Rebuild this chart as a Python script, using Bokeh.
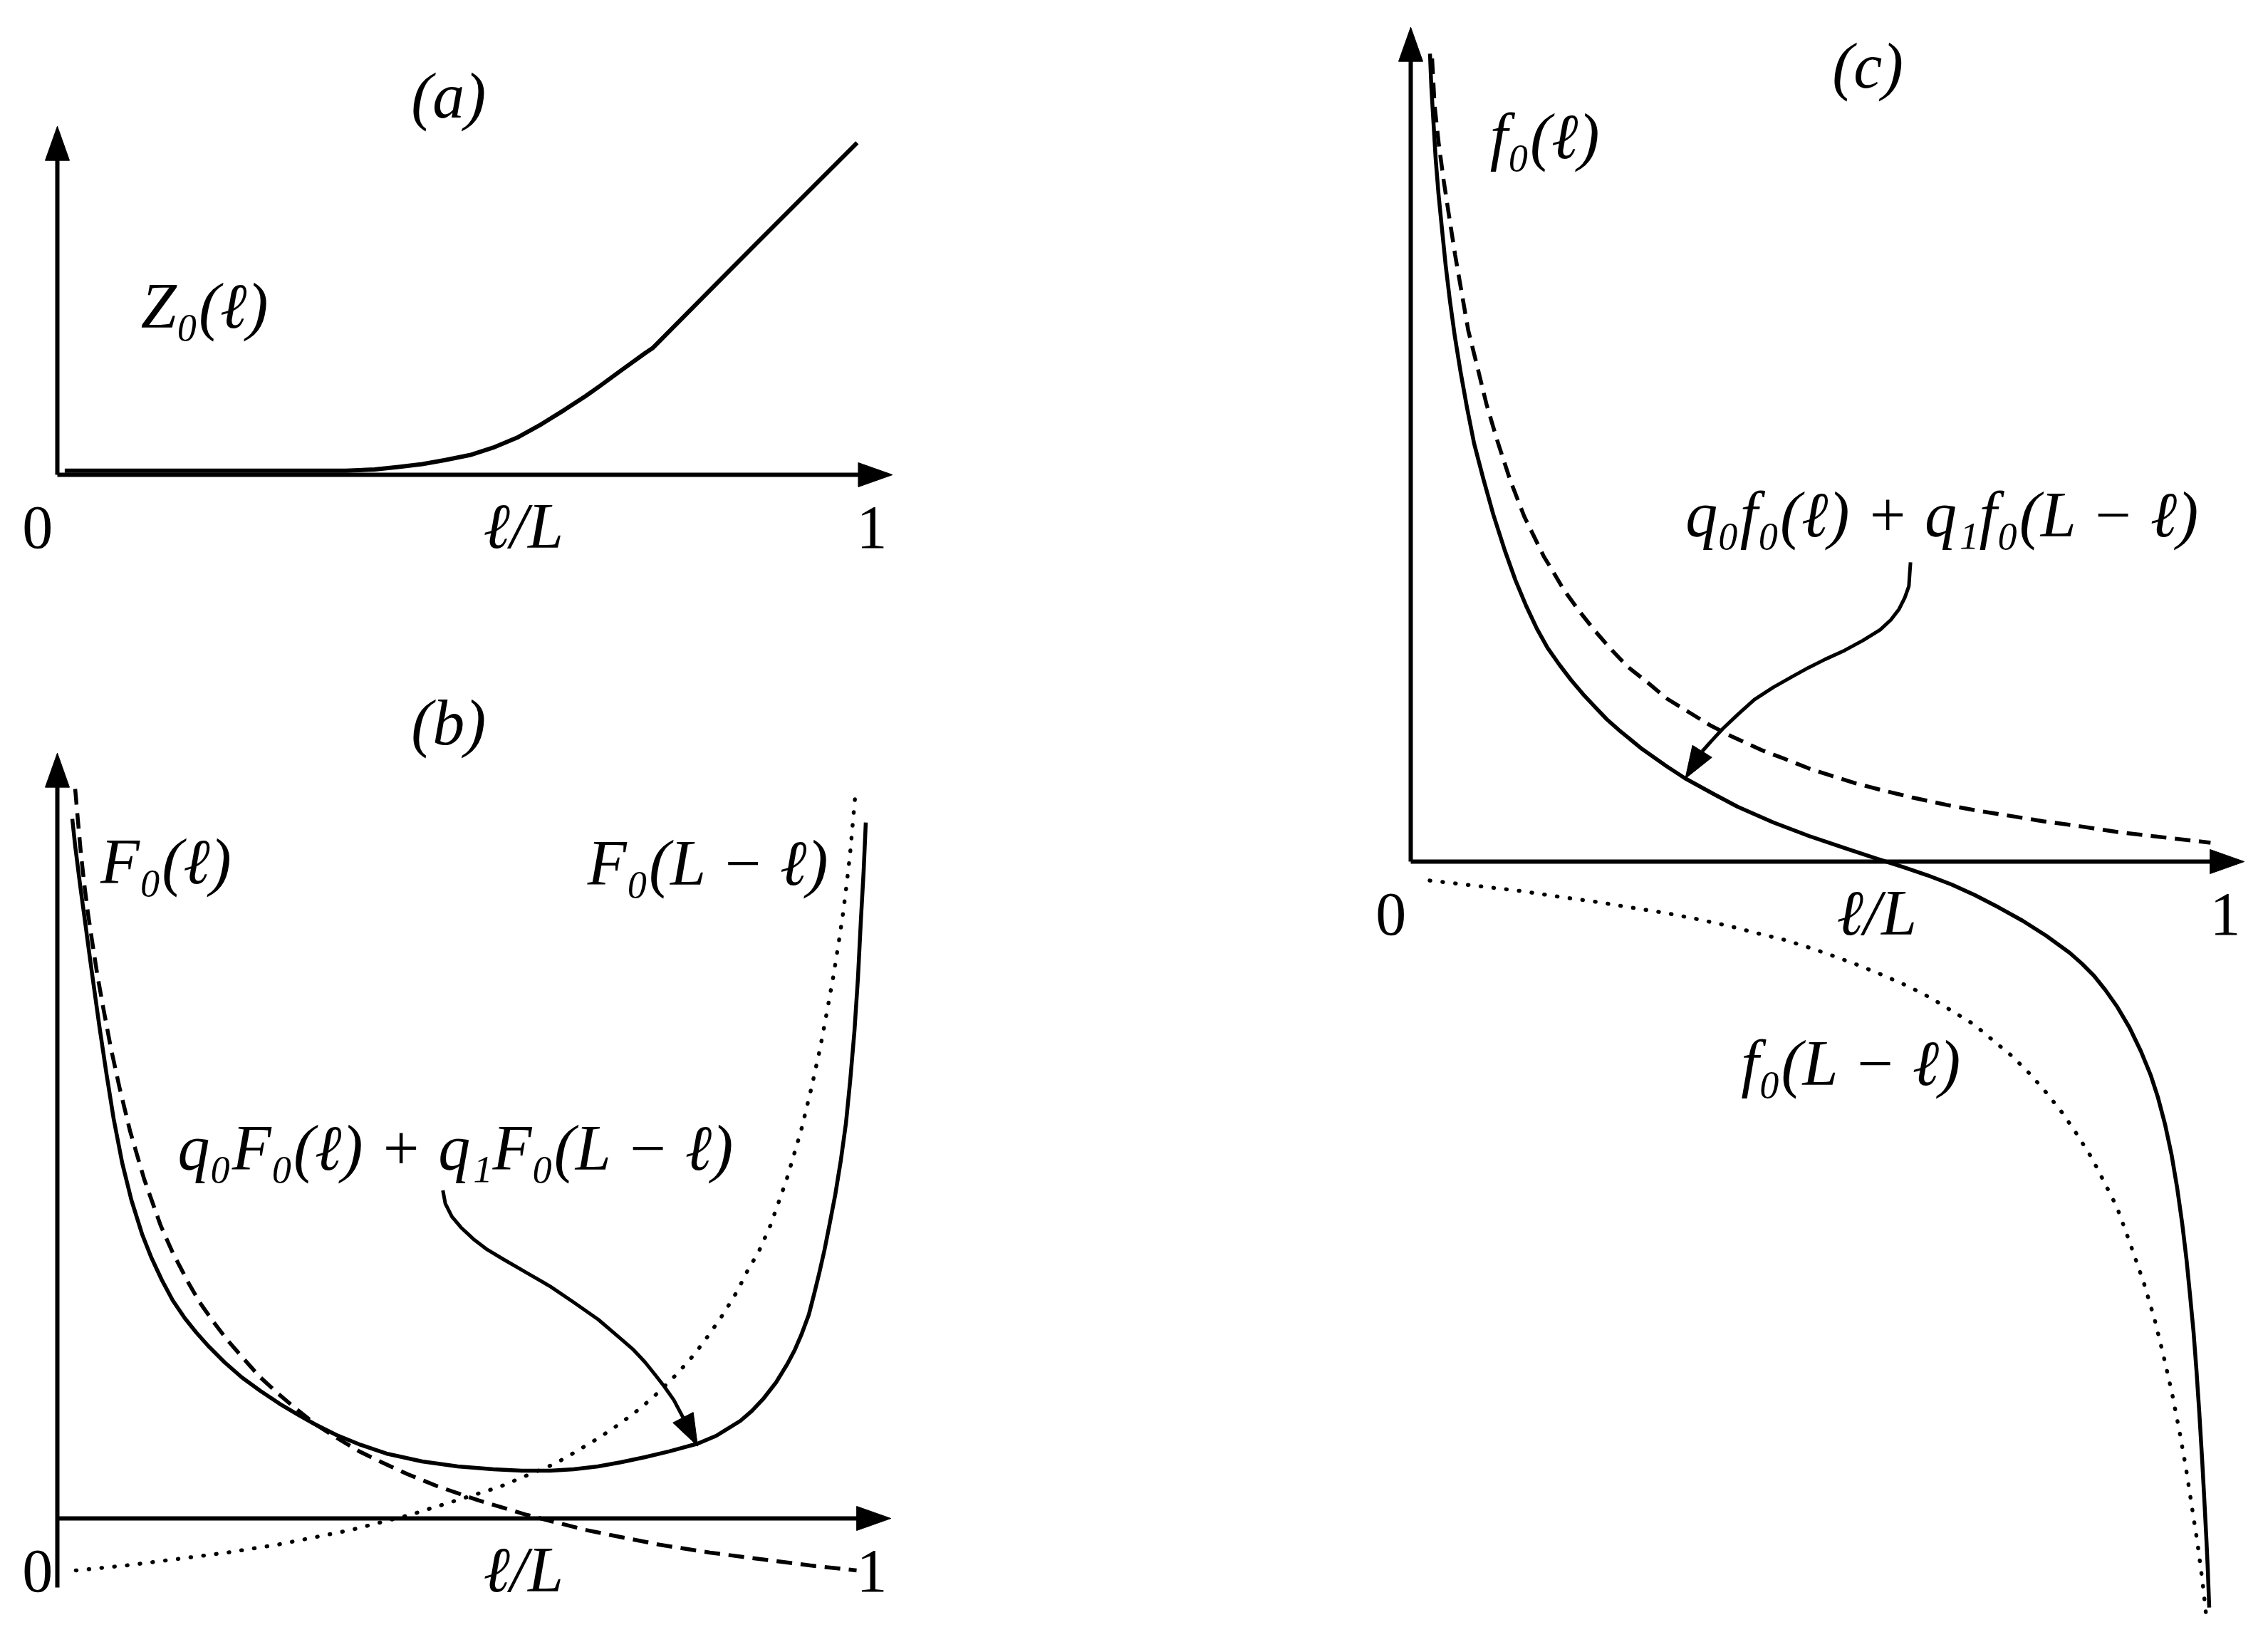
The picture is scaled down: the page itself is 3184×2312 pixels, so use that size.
import numpy as np
from bokeh.plotting import figure
from bokeh.models import Range1d
from bokeh.core.properties import value
from bokeh.embed import file_html
from bokeh.resources import INLINE

# ---------------- data (x = l/L) ----------------
# panel (a): Z0(l)
A_X = [0.009, 0.351, 0.386, 0.415, 0.444, 0.472, 0.502, 0.530, 0.559, 0.588, 0.617, 0.643,
       0.660, 0.686, 0.715, 0.724, 0.848, 0.973]
A_Z0 = [0.005, 0.005, 0.0065, 0.0095, 0.013, 0.018, 0.024, 0.033, 0.045, 0.061, 0.079, 0.096,
        0.108, 0.127, 0.148, 0.154, 0.279, 0.404]

# panel (b): q0 F0(l) + q1 F0(L-l)  (solid), F0(l) (dashed), F0(L-l) (dotted)
B_X_SUM = [0.0182, 0.0217, 0.0277, 0.0338, 0.0390, 0.0451, 0.0511, 0.0598, 0.0685, 0.0789,
           0.0901, 0.1031, 0.1144, 0.1274, 0.1404, 0.1551, 0.1690, 0.1837, 0.2036, 0.2244,
           0.2470, 0.2704, 0.2938, 0.3137, 0.3397, 0.3674, 0.4003, 0.4437, 0.4870, 0.5303,
           0.5650, 0.5997, 0.6282, 0.6577, 0.6863, 0.7149, 0.7444, 0.7790, 0.8016, 0.8310,
           0.8449, 0.8596, 0.8744, 0.8882, 0.8969, 0.9055, 0.9142, 0.9211, 0.9272, 0.9333,
           0.9393, 0.9463, 0.9532, 0.9593, 0.9645, 0.9697, 0.9740, 0.9775, 0.9809, 0.9835]
B_SUM = [0.8510, 0.8180, 0.7704, 0.7253, 0.6863, 0.6421, 0.5988, 0.5407, 0.4861, 0.4324,
         0.3873, 0.3458, 0.3172, 0.2894, 0.2652, 0.2435, 0.2262, 0.2097, 0.1898, 0.1716,
         0.1551, 0.1395, 0.1256, 0.1144, 0.1014, 0.0901, 0.0789, 0.0693, 0.0633, 0.0598,
         0.0581, 0.0581, 0.0598, 0.0633, 0.0685, 0.0745, 0.0815, 0.0910, 0.1005, 0.1187,
         0.1308, 0.1464, 0.1655, 0.1880, 0.2045, 0.2244, 0.2478, 0.2747, 0.2998, 0.3267,
         0.3570, 0.3934, 0.4359, 0.4801, 0.5321, 0.5927, 0.6577, 0.7270, 0.7877, 0.8466]
B_X_F = [0.0217, 0.0251, 0.0286, 0.0329, 0.0373, 0.0425, 0.0485, 0.0563, 0.0650, 0.0754,
         0.0884, 0.1057, 0.1257, 0.1404, 0.1594, 0.1733, 0.1898, 0.2071, 0.2253, 0.2461,
         0.2678, 0.2903, 0.3154, 0.3414, 0.3674, 0.3943, 0.4263, 0.4627, 0.5130, 0.5711,
         0.6421, 0.6716, 0.7331, 0.7938, 0.8544, 0.9159, 0.9723]
B_F = [0.8873, 0.8484, 0.8094, 0.7704, 0.7357, 0.7010, 0.6620, 0.6187, 0.5728, 0.5251,
       0.4714, 0.4125, 0.3562, 0.3232, 0.2868, 0.2626, 0.2392, 0.2166, 0.1958, 0.1724,
       0.1525, 0.1334, 0.1135, 0.0971, 0.0815, 0.0685, 0.0537, 0.0390, 0.0217, 0.0043,
       -0.0139, -0.0199, -0.0321, -0.0416, -0.0494, -0.0572, -0.0633]
B_X_FR = [0.0225, 0.0841, 0.1456, 0.2062, 0.2669, 0.3284, 0.3579, 0.4289, 0.5373, 0.6057,
          0.6326, 0.6586, 0.6846, 0.7097, 0.7322, 0.7539, 0.7747, 0.7929, 0.8102, 0.8267,
          0.8406, 0.8527, 0.8674, 0.8873, 0.9047, 0.9177, 0.9281, 0.9367, 0.9445, 0.9506,
          0.9558, 0.9601, 0.9645, 0.9679, 0.9714]
B_FR = [-0.0633, -0.0572, -0.0494, -0.0416, -0.0321, -0.0199, -0.0139, 0.0043, 0.0381, 0.0667,
        0.0823, 0.0979, 0.1153, 0.1343, 0.1542, 0.1759, 0.1993, 0.2236, 0.2487, 0.2756,
        0.3033, 0.3232, 0.3562, 0.4125, 0.4714, 0.5251, 0.5728, 0.6187, 0.6620, 0.7010,
        0.7357, 0.7704, 0.8094, 0.8484, 0.8873]

# panel (c): q0 f0(l) + q1 f0(L-l) (solid), f0(l) (dashed), f0(L-l) (dotted)
C_X_SUM = [0.0234, 0.0251, 0.0277, 0.0303, 0.0338, 0.0381, 0.0425, 0.0477, 0.0537, 0.0607,
           0.0685, 0.0771, 0.0884, 0.1005, 0.1144, 0.1274, 0.1404, 0.1534, 0.1664, 0.1811,
           0.1950, 0.2097, 0.2244, 0.2383, 0.2530, 0.2816, 0.3111, 0.3336, 0.3683, 0.3977,
           0.4411, 0.4844, 0.5277, 0.5650, 0.5997, 0.6282, 0.6577, 0.6863, 0.7149, 0.7444,
           0.7730, 0.8016, 0.8163, 0.8310, 0.8449, 0.8596, 0.8744, 0.8882, 0.9003, 0.9090,
           0.9177, 0.9255, 0.9324, 0.9385, 0.9437, 0.9480, 0.9523, 0.9558, 0.9593, 0.9627,
           0.9653, 0.9679, 0.9697, 0.9714]
C_SUM = [0.9827, 0.9419, 0.8986, 0.8553, 0.8120, 0.7686, 0.7253, 0.6820, 0.6386, 0.5953,
         0.5520, 0.5087, 0.4653, 0.4220, 0.3787, 0.3423, 0.3111, 0.2834, 0.2600, 0.2392,
         0.2210, 0.2036, 0.1880, 0.1733, 0.1603, 0.1369, 0.1161, 0.1014, 0.0823, 0.0667,
         0.0477, 0.0312, 0.0165, 0.0043, -0.0069, -0.0165, -0.0277, -0.0407, -0.0555, -0.0719,
         -0.0901, -0.1109, -0.1239, -0.1386, -0.1560, -0.1768, -0.2019, -0.2305, -0.2600, -0.2868,
         -0.3198, -0.3562, -0.3969, -0.4402, -0.4835, -0.5269, -0.5719, -0.6179, -0.6698, -0.7262,
         -0.7738, -0.8232, -0.8622, -0.9073]
C_X_F = [0.026, 0.029, 0.034, 0.040, 0.047, 0.054, 0.062, 0.070, 0.081, 0.092, 0.105, 0.121,
         0.138, 0.162, 0.170, 0.186, 0.204, 0.223, 0.243, 0.264, 0.288, 0.312, 0.338, 0.364,
         0.391, 0.426, 0.455, 0.484, 0.513, 0.542, 0.571, 0.610, 0.652, 0.689, 0.727, 0.770,
         0.814, 0.860, 0.903, 0.973]
C_F = [0.977, 0.920, 0.874, 0.829, 0.783, 0.738, 0.692, 0.646, 0.602, 0.557, 0.513, 0.464,
       0.420, 0.371, 0.358, 0.331, 0.306, 0.282, 0.259, 0.237, 0.218, 0.198, 0.182, 0.166,
       0.152, 0.136, 0.125, 0.1135, 0.104, 0.095, 0.0875, 0.078, 0.069, 0.062, 0.056, 0.049,
       0.043, 0.036, 0.031, 0.023]
C_X_FR = [0.023, 0.093, 0.136, 0.182, 0.226, 0.269, 0.307, 0.344, 0.386, 0.425, 0.454, 0.483,
          0.512, 0.542, 0.574, 0.606, 0.633, 0.659, 0.685, 0.709, 0.732, 0.754, 0.774, 0.793,
          0.810, 0.827, 0.834, 0.859, 0.875, 0.892, 0.905, 0.916, 0.926, 0.935, 0.943, 0.950,
          0.957, 0.963, 0.968]
C_FR = [-0.023, -0.031, -0.036, -0.043, -0.049, -0.056, -0.062, -0.069, -0.078, -0.088, -0.095,
        -0.104, -0.114, -0.125, -0.138, -0.152, -0.166, -0.182, -0.198, -0.218, -0.237, -0.259,
        -0.282, -0.306, -0.331, -0.358, -0.371, -0.420, -0.464, -0.513, -0.557, -0.602, -0.646,
        -0.692, -0.737, -0.783, -0.828, -0.874, -0.920]

# pointer arrows from the labels to the solid curves (last point = arrow tip)
B_PTR_X = [0.469, 0.472, 0.480, 0.491, 0.506, 0.523, 0.543, 0.569, 0.600, 0.628, 0.658, 0.686,
           0.701, 0.715, 0.727, 0.738, 0.750, 0.758, 0.779]
B_PTR_Y = [0.399, 0.383, 0.367, 0.354, 0.340, 0.327, 0.315, 0.300, 0.282, 0.263, 0.242, 0.218,
           0.205, 0.190, 0.175, 0.161, 0.144, 0.129, 0.088]
C_PTR_X = [0.608, 0.607, 0.606, 0.601, 0.594, 0.584, 0.571, 0.550, 0.528, 0.504, 0.484, 0.464,
           0.441, 0.418, 0.398, 0.380, 0.366, 0.357, 0.334]
C_PTR_Y = [0.364, 0.350, 0.335, 0.321, 0.307, 0.294, 0.282, 0.269, 0.257, 0.246, 0.236, 0.225,
           0.212, 0.197, 0.179, 0.162, 0.147, 0.138, 0.101]

# texts
TICK_LABELS = ["0", "1"]
X_LABEL = "ℓ/L"
TITLES = ["(a)", "(b)", "(c)"]
A_LABELS = ["Z₀(ℓ)"]
B_LABELS = ["F₀(ℓ)", "F₀(L − ℓ)", "q₀F₀(ℓ) + q₁F₀(L − ℓ)"]
C_LABELS = ["f₀(ℓ)", "q₀f₀(ℓ) + q₁f₀(L − ℓ)", "f₀(L − ℓ)"]

# ---------------- layout ----------------
W, H = 3168, 2296
M = 8
S = 1154.0  # pixels per data unit (same on both axes)
ORIGIN = {"a": (88, 674), "b": (88, 2139), "c": (1988, 1217)}
AXES = {  # (y-axis bottom, y-axis top, x-axis end)
    "a": (0.0, 0.424, 1.016),
    "b": (-0.084, 0.931, 1.014),
    "c": (0.0, 1.015, 1.014),
}
FONT = value("Liberation Serif")
FS = "90px"
LW = 5.5
AXW = 6
HEAD_LEN = 48 / S
HEAD_HALF = 17 / S

p = figure(width=W, height=H, output_backend="svg", toolbar_location=None,
           x_axis_type=None, y_axis_type=None, min_border=0,
           x_range=Range1d(0, 1), y_range=Range1d(0, 1))
p.outline_line_color = None
p.background_fill_color = "white"
p.border_fill_color = "white"

xr, yr = {}, {}
for k, (X0, Y0) in ORIGIN.items():
    xr[k] = Range1d((M - X0) / S, (M + W - X0) / S)
    yr[k] = Range1d((Y0 - (M + H)) / S, (Y0 - M) / S)
p.extra_x_ranges = xr
p.extra_y_ranges = yr


def rn(k):
    return dict(x_range_name=k, y_range_name=k)


def head(k, tx, ty, dx, dy, length=HEAD_LEN, half=HEAD_HALF):
    n = np.hypot(dx, dy)
    ux, uy = dx / n, dy / n
    bx, by = tx - ux * length, ty - uy * length
    px, py = -uy, ux
    xs = [tx, bx + px * half, bx - px * half]
    ys = [ty, by + py * half, by - py * half]
    p.patch(xs, ys, fill_color="black", line_color="black", line_width=1, **rn(k))
    return bx, by


# axes with arrow heads, tick labels and axis label
for k, (yb, yt, xe) in AXES.items():
    p.line([0, 0], [yb, yt - HEAD_LEN * 0.8], line_width=AXW, color="black", **rn(k))
    head(k, 0, yt, 0, 1)
    p.line([0, xe - HEAD_LEN * 0.8], [0, 0], line_width=AXW, color="black", **rn(k))
    head(k, xe, 0, 1, 0)
    p.text(x=[-0.024, 0.991], y=[-0.064, -0.064], text=TICK_LABELS, text_font=FONT,
           text_font_size="86px", text_align="center", text_baseline="middle",
           text_color="black", **rn(k))
    p.text(x=[0.567], y=[-0.062], text=[X_LABEL], text_font=FONT, text_font_size=FS,
           text_font_style="italic", text_align="center", text_baseline="middle",
           text_color="black", **rn(k))

# panel (a)
p.line(A_X, A_Z0, line_width=6, color="black", line_join="round", **rn("a"))

# panel (b)
p.line(B_X_SUM, B_SUM, line_width=LW, color="black", line_join="round", **rn("b"))
p.line(B_X_F, B_F, line_width=LW, color="black", line_dash="22 12", **rn("b"))
p.line(B_X_FR, B_FR, line_width=LW, color="black", line_dash="1 17", line_cap="round", **rn("b"))

# panel (c)
p.line(C_X_SUM, C_SUM, line_width=LW, color="black", line_join="round", **rn("c"))
p.line(C_X_F, C_F, line_width=LW, color="black", line_dash="22 12", **rn("c"))
p.line(C_X_FR, C_FR, line_width=LW, color="black", line_dash="1 17", line_cap="round", **rn("c"))

# pointer arrows
for k, xs, ys in (("b", B_PTR_X, B_PTR_Y), ("c", C_PTR_X, C_PTR_Y)):
    bx, by = head(k, xs[-1], ys[-1], xs[-1] - xs[-2], ys[-1] - ys[-2], length=45 / S, half=16 / S)
    p.line(xs[:-2] + [bx], ys[:-2] + [by], line_width=5, color="black", line_join="round", **rn(k))

# titles
for k, (tx, ty), t in zip("abc", [(0.476, 0.461), (0.476, 0.968), (0.556, 0.968)], TITLES):
    p.text(x=[tx], y=[ty], text=[t], text_font=FONT, text_font_size=FS, text_font_style="italic",
           text_align="center", text_baseline="middle", text_color="black", **rn(k))

# curve labels
LABEL_POS = {
    "a": [(0.179, 0.205)],
    "b": [(0.132, 0.799), (0.792, 0.797), (0.485, 0.451)],
    "c": [(0.163, 0.882), (0.647, 0.422), (0.536, -0.245)],
}
for k, labels in (("a", A_LABELS), ("b", B_LABELS), ("c", C_LABELS)):
    pos = LABEL_POS[k]
    p.text(x=[q[0] for q in pos], y=[q[1] for q in pos], text=labels, text_font=FONT,
           text_font_size=FS, text_font_style="italic", text_align="center",
           text_baseline="middle", text_color="black", **rn(k))

open("out.html", "w").write(file_html(p, INLINE))
